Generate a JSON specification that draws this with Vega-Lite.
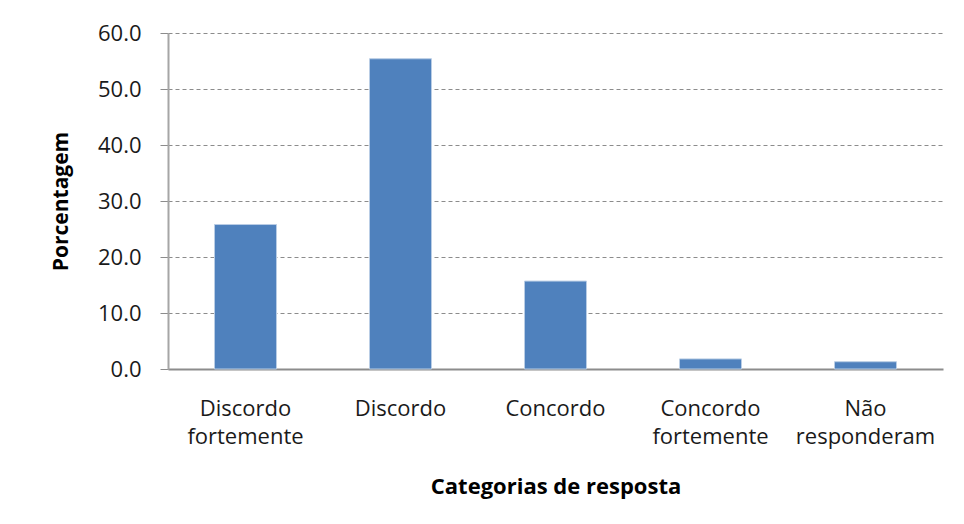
{
  "$schema": "https://vega.github.io/schema/vega-lite/v6.json",
  "autosize": "none",
  "padding": {"left": 168, "top": 33, "right": 21, "bottom": 155},
  "width": 775,
  "height": 336,
  "background": "white",
  "data": {
    "values": [
      {"categoria": "Discordo fortemente", "porcentagem": 25.8},
      {"categoria": "Discordo", "porcentagem": 55.4},
      {"categoria": "Concordo", "porcentagem": 15.7},
      {"categoria": "Concordo fortemente", "porcentagem": 1.8},
      {"categoria": "Não responderam", "porcentagem": 1.3}
    ]
  },
  "mark": {"type": "bar", "color": "#4f81bd", "stroke": "#b9cde5", "strokeWidth": 1},
  "encoding": {
    "x": {
      "field": "categoria",
      "type": "nominal",
      "sort": null,
      "scale": {"paddingInner": 0.6, "paddingOuter": 0.3},
      "axis": {
        "title": "Categorias de resposta",
        "titleFont": "Open Sans",
        "titleFontSize": 22,
        "titleFontWeight": "bold",
        "titleColor": "#000000",
        "titlePadding": 29,
        "labelAngle": 0,
        "labelFont": "Open Sans",
        "labelFontSize": 22,
        "labelColor": "#1a1a1a",
        "labelPadding": 29,
        "labelLineHeight": 28,
        "labelExpr": "split(datum.label, ' ')",
        "ticks": false,
        "domainColor": "#8c8c8c",
        "domainWidth": 2,
        "grid": false
      }
    },
    "y": {
      "field": "porcentagem",
      "type": "quantitative",
      "scale": {"domain": [0, 60], "nice": false},
      "axis": {
        "title": "Porcentagem",
        "titleFont": "Open Sans",
        "titleFontSize": 21,
        "titleFontWeight": "bold",
        "titleColor": "#000000",
        "titlePadding": 26,
        "values": [0, 10, 20, 30, 40, 50, 60],
        "format": ".1f",
        "labelFont": "Open Sans",
        "labelFontSize": 22,
        "labelColor": "#1a1a1a",
        "labelPadding": 19,
        "tickSize": 8,
        "tickColor": "#8c8c8c",
        "tickWidth": 1,
        "domainColor": "#a6a6a6",
        "domainWidth": 2,
        "grid": true,
        "gridColor": "#8c8c8c",
        "gridDash": [4, 3],
        "gridWidth": 1
      }
    }
  },
  "config": {"view": {"stroke": null}}
}
